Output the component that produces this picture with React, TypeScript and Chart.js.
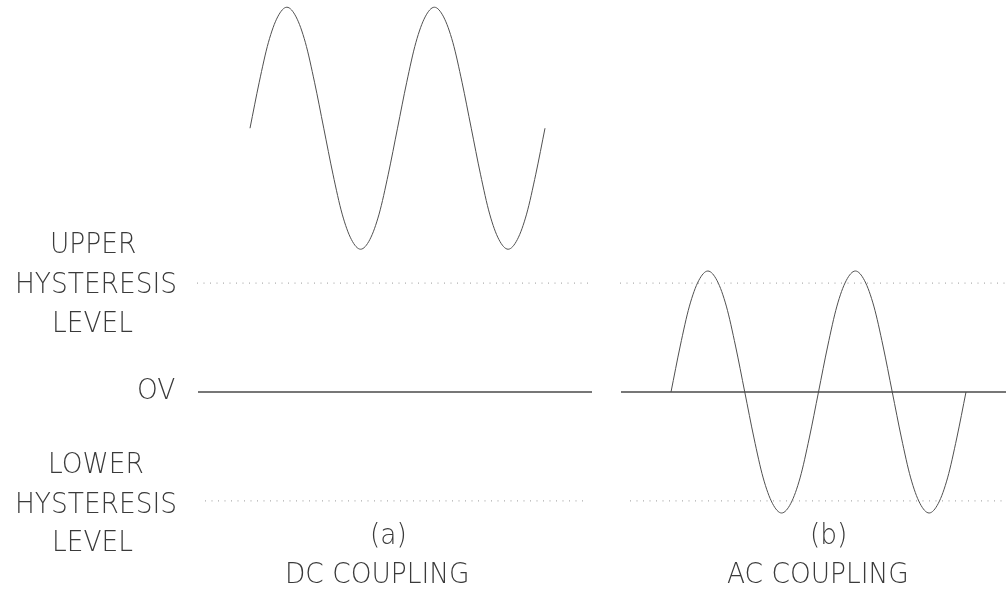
import React, { useEffect, useRef } from "react";
import { Chart, registerables } from "chart.js";

Chart.register(...registerables);

// one sample every 1/16 of a period, two periods (unit = amplitude)
const waveShape = [
  0, 0.38, 0.71, 0.92, 1, 0.92, 0.71, 0.38, 0, -0.38, -0.71, -0.92, -1, -0.92, -0.71, -0.38,
  0, 0.38, 0.71, 0.92, 1, 0.92, 0.71, 0.38, 0, -0.38, -0.71, -0.92, -1, -0.92, -0.71, -0.38, 0,
];
const period = 147.5; // time units per cycle
const samplesPerPeriod = 16;
const dcStart = 250;
const acStart = 671;
const dcOffset = 2.18;
const acOffset = 0;
const upperLevel = 0.9;
const lowerLevel = -0.9;
const panelA = [198, 592];
const panelB = [621, 1006];
const upperA = [197, 590];
const upperB = [620, 1006];
const lowerA = [205, 585];
const lowerB = [630, 1006];

const leftLabels = ["UPPER", "HYSTERESIS", "LEVEL", "OV", "LOWER", "HYSTERESIS", "LEVEL"];
const captionLabels = ["(a)", "DC COUPLING", "(b)", "AC COUPLING"];

function wave(start: number, offset: number) {
  return waveShape.map((v, i) => ({ x: start + (i * period) / samplesPerPeriod, y: offset + v }));
}

function seg(xs: number[], y: number) {
  return [
    { x: xs[0], y },
    { x: xs[1], y },
  ];
}

export default function App() {
  const ref = useRef<HTMLCanvasElement | null>(null);
  useEffect(() => {
    if (!ref.current) return;
    const FONT = "200 29px 'DejaVu Sans'";
    const textPlugin = {
      id: "labels",
      afterDatasetsDraw(chart: any) {
        const ctx = chart.ctx as CanvasRenderingContext2D;
        ctx.save();
        ctx.font = FONT;
        ctx.fillStyle = "#3a3a3a";
        ctx.textBaseline = "alphabetic";
        ctx.textAlign = "left";
        const sx = 162 / ctx.measureText("HYSTERESIS").width;
        const lefts = [50, 15, 52, 137, 48, 15, 52];
        const bases = [253, 293, 332, 399, 473, 513, 551];
        const draw = (t: string, x: number, y: number) => {
          ctx.save();
          ctx.translate(x, y);
          ctx.scale(sx, 1);
          ctx.fillText(t, 0, 0);
          ctx.restore();
        };
        leftLabels.forEach((t, i) => draw(t, lefts[i], bases[i]));
        const capLefts = [370, 285, 810, 727];
        const capBases = [544, 583, 544, 583];
        captionLabels.forEach((t, i) => draw(t, capLefts[i], capBases[i]));
        ctx.restore();
      },
    };
    const solid = { borderColor: "#4a4a4a", borderWidth: 1.5, pointRadius: 0, fill: false };
    const dotted = { borderColor: "#9a9a9a", borderWidth: 1, borderDash: [1, 5.5], pointRadius: 0, fill: false };
    const waveStyle = {
      borderColor: "#505050",
      borderWidth: 1,
      pointRadius: 0,
      fill: false,
      cubicInterpolationMode: "monotone" as const,
    };
    const chart = new Chart(ref.current, {
      type: "line",
      data: {
        datasets: [
          { label: "0V a", data: seg(panelA, 0), ...solid },
          { label: "0V b", data: seg(panelB, 0), ...solid },
          { label: "upper a", data: seg(upperA, upperLevel), ...dotted },
          { label: "upper b", data: seg(upperB, upperLevel), ...dotted },
          { label: "lower a", data: seg(lowerA, lowerLevel), ...dotted },
          { label: "lower b", data: seg(lowerB, lowerLevel), ...dotted },
          { label: "DC", data: wave(dcStart, dcOffset), ...waveStyle },
          { label: "AC", data: wave(acStart, acOffset), ...waveStyle },
        ],
      },
      options: {
        responsive: false,
        animation: false,
        devicePixelRatio: 1,
        layout: { padding: 0 },
        plugins: { legend: { display: false }, tooltip: { enabled: false } },
        scales: {
          x: { type: "linear", min: 0, max: 1006, display: false },
          y: { type: "linear", min: -198 / 121, max: 392 / 121, display: false },
        },
      },
      plugins: [textPlugin],
    });
    return () => chart.destroy();
  }, []);
  return (
    <div style={{ position: "fixed", left: 0, top: 0, width: 1006, height: 590, background: "#fff" }}>
      <canvas ref={ref} width={1006} height={590} style={{ display: "block" }} />
    </div>
  );
}
